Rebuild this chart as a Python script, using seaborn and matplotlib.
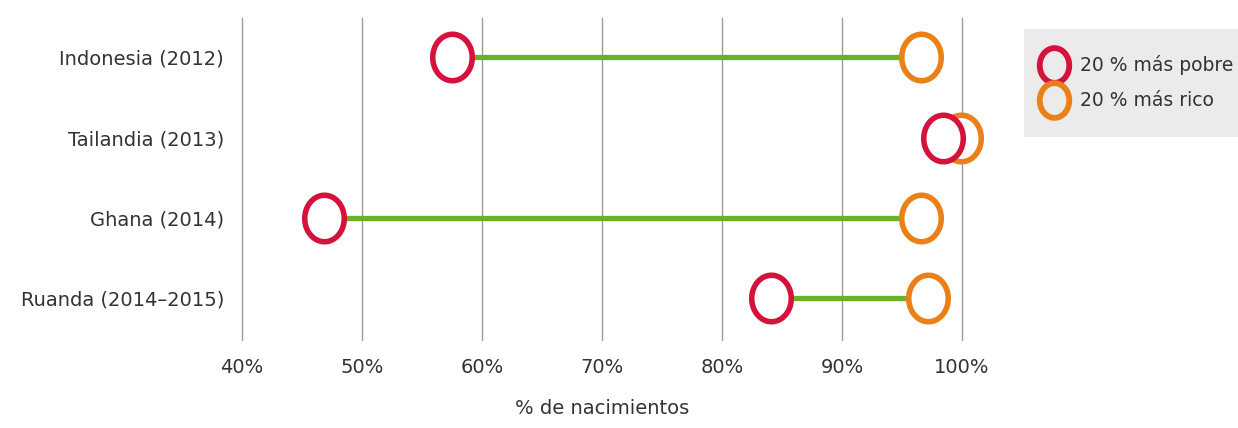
import numpy as np
import pandas as pd
import matplotlib
matplotlib.use("Agg")
import matplotlib.pyplot as plt
from matplotlib.path import Path
from matplotlib.patches import Rectangle
from matplotlib.lines import Line2D
import seaborn as sns

countries = ["Indonesia (2012)", "Tailandia (2013)", "Ghana (2014)", "Ruanda (2014–2015)"]
poorest = [57.5, 98.4, 46.8, 84.1]
richest = [96.6, 99.9, 96.6, 97.2]
xticks = [40, 50, 60, 70, 80, 90, 100]
series_names = ["20 % más pobre", "20 % más rico"]

RED = "#d5123b"
ORANGE = "#ea8017"
GREEN = "#6ab12a"
TEXT = "#333333"

sns.set_theme(style="white")
plt.rcParams['font.family'] = ['DejaVu Sans']

df = pd.DataFrame({
    "country": countries * 2,
    "value": poorest + richest,
    "group": [series_names[0]] * len(countries) + [series_names[1]] * len(countries),
})

# slightly tall ellipse marker
t = np.linspace(0, 2 * np.pi, 81)
verts = np.column_stack([np.cos(t) * 0.85, np.sin(t)])
ellipse = Path(verts, closed=True)

fig = plt.figure(figsize=(12.38, 4.28), dpi=100)
ax = fig.add_axes([242 / 1238, 1 - 340 / 428, 720 / 1238, 322 / 428])

ypos = np.arange(len(countries))
ax.hlines(ypos, poorest, richest, color=GREEN, lw=3.8, zorder=2)

for name, col, z in [(series_names[1], ORANGE, 3), (series_names[0], RED, 4)]:
    sub = df[df["group"] == name]
    sns.scatterplot(x=sub["value"].values, y=ypos, ax=ax, marker=ellipse, s=1120,
                    facecolor="white", edgecolor=col, linewidth=4.0, zorder=z,
                    clip_on=False, legend=False)

ax.set_xlim(40, 100)
ax.set_ylim(3.52, -0.49)
ax.set_xticks(xticks)
ax.set_xticklabels([f"{v}%" for v in xticks], fontsize=14, color=TEXT)
ax.set_yticks(ypos)
ax.set_yticklabels(countries, fontsize=14, color=TEXT)
ax.tick_params(axis="x", length=0, pad=13)
ax.tick_params(axis="y", length=0, pad=13)
for s in ax.spines.values():
    s.set_visible(False)
ax.grid(axis="x", color="#9a9a9a", lw=1, zorder=0)
for gl in ax.get_xgridlines():
    gl.set_clip_on(False)
ax.set_axisbelow(True)
ax.set_xlabel("% de nacimientos", fontsize=14, color=TEXT, labelpad=16)

fig.patches.append(Rectangle((1024 / 1238, 1 - 137 / 428), 214 / 1238, 108 / 428,
                             transform=fig.transFigure, facecolor="#ebebeb",
                             edgecolor="none", zorder=0))
handles = [Line2D([], [], ls="none", marker=ellipse, markersize=25, markerfacecolor="none",
                  markeredgecolor=c, markeredgewidth=4.2) for c in (RED, ORANGE)]
leg = fig.legend(handles, series_names, loc="upper left",
                 bbox_to_anchor=(1032 / 1238, 1 - 46 / 428), frameon=False,
                 fontsize=13.5, handletextpad=0.75, labelspacing=0.85, borderpad=0,
                 handlelength=1.3, labelcolor=TEXT)

fig.savefig("out.png", dpi=100, facecolor="white")
